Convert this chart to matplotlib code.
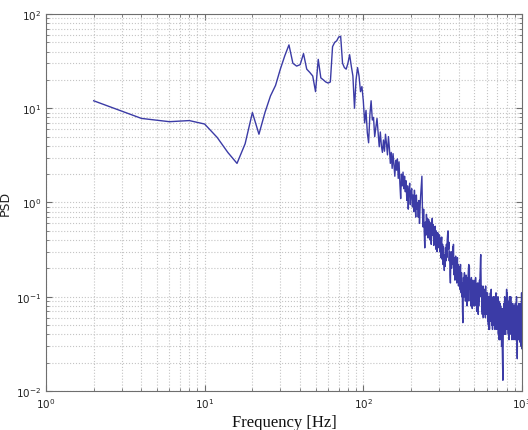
"""
Power spectral density of the measured signal, log-log, 2 Hz bins.
"""

import numpy as np
import matplotlib.pyplot as plt
from matplotlib.ticker import LogLocator, NullFormatter

# --- Spectrum (bin spacing 2 Hz, first bin at 2 Hz) ---
df = 2.0

psd_low = [  # 2 .. 100 Hz
    12.0, 7.8, 7.2, 7.4, 6.8, 4.9, 3.4, 2.6, 4.2, 9.0,
    5.3, 9.0, 13.5, 17.5, 26, 36, 47, 30, 28, 29,
    38, 26, 24, 22, 15, 33, 21, 20, 19, 18.5,
    19, 45, 50, 52, 57, 58, 30, 27, 26, 30,
    37, 28, 22, 10, 20, 27, 22, 15, 17, 12,
]
psd_mid = [  # 102 .. 300 Hz
    7.0, 9.5, 5.5, 4.3, 8.5, 12.0, 7.5, 8.0, 5.0, 6.2,
    7.8, 5.4, 3.9, 5.6, 4.0, 3.4, 4.6, 3.5, 5.3, 4.2,
    3.2, 5.0, 3.8, 2.6, 3.4, 2.3, 3.3, 2.5, 1.9, 2.8,
    2.2, 2.9, 1.8, 2.7, 1.6, 1.1, 2.0, 1.5, 2.1, 1.4,
    1.9, 1.3, 1.7, 1.05, 1.5, 0.85, 1.35, 1.6, 0.95, 1.3,
    1.4, 0.9, 1.2, 0.8, 1.35, 1.0, 0.7, 1.2, 0.85, 1.0,
    0.7, 1.05, 0.6, 0.9, 1.2, 1.5, 1.9, 0.8, 0.55, 0.85,
    0.5, 0.33, 0.62, 0.45, 0.75, 0.5, 0.68, 0.42, 0.66, 0.5,
    0.62, 0.4, 0.6, 0.36, 0.55, 0.68, 0.45, 0.58, 0.35, 0.55,
    0.4, 0.56, 0.32, 0.5, 0.42, 0.3, 0.48, 0.36, 0.46, 0.33,
]
psd_high = [  # 302 .. 600 Hz
    0.45, 0.3, 0.42, 0.26, 0.38, 0.43, 0.25, 0.36, 0.22, 0.34,
    0.24, 0.19, 0.28, 0.21, 0.33, 0.24, 0.36, 0.26, 0.4, 0.46,
    0.5, 0.32, 0.38, 0.24, 0.3, 0.17, 0.14, 0.25, 0.3, 0.2,
    0.28, 0.22, 0.34, 0.26, 0.36, 0.22, 0.17, 0.26, 0.15, 0.23,
    0.27, 0.16, 0.24, 0.14, 0.21, 0.26, 0.15, 0.22, 0.13, 0.2,
    0.18, 0.21, 0.12, 0.19, 0.22, 0.13, 0.11, 0.18, 0.1, 0.14,
    0.07, 0.053, 0.11, 0.16, 0.1, 0.15, 0.18, 0.1, 0.15, 0.09,
    0.15, 0.17, 0.1, 0.14, 0.08, 0.13, 0.16, 0.09, 0.17, 0.2,
    0.22, 0.13, 0.21, 0.12, 0.15, 0.09, 0.14, 0.08, 0.13, 0.16,
    0.09, 0.12, 0.075, 0.13, 0.15, 0.085, 0.12, 0.14, 0.08, 0.12,
    0.14, 0.08, 0.15, 0.1, 0.16, 0.12, 0.09, 0.13, 0.07, 0.12,
    0.085, 0.14, 0.07, 0.11, 0.065, 0.12, 0.08, 0.14, 0.09, 0.15,
    0.1, 0.17, 0.2, 0.26, 0.28, 0.16, 0.1, 0.13, 0.07, 0.12,
    0.065, 0.11, 0.08, 0.13, 0.06, 0.09, 0.11, 0.065, 0.1, 0.075,
    0.12, 0.07, 0.1, 0.06, 0.13, 0.085, 0.11, 0.065, 0.1, 0.08,
]
psd_tail = [  # 602 .. 1000 Hz
    0.1, 0.065, 0.11, 0.055, 0.09, 0.1, 0.05, 0.085, 0.045, 0.07,
    0.09, 0.045, 0.08, 0.1, 0.06, 0.11, 0.07, 0.055, 0.09, 0.12,
    0.07, 0.09, 0.05, 0.095, 0.06, 0.045, 0.085, 0.055, 0.1, 0.06,
    0.05, 0.085, 0.1, 0.06, 0.05, 0.095, 0.06, 0.045, 0.085, 0.1,
    0.06, 0.09, 0.11, 0.065, 0.05, 0.085, 0.045, 0.08, 0.055, 0.09,
    0.05, 0.085, 0.1, 0.055, 0.04, 0.075, 0.09, 0.05, 0.035, 0.07,
    0.085, 0.045, 0.035, 0.07, 0.085, 0.045, 0.08, 0.04, 0.07, 0.035,
    0.065, 0.03, 0.06, 0.075, 0.035, 0.028, 0.02, 0.015, 0.013, 0.025,
    0.06, 0.075, 0.04, 0.065, 0.085, 0.05, 0.04, 0.08, 0.1, 0.06,
    0.05, 0.09, 0.055, 0.04, 0.075, 0.085, 0.045, 0.08, 0.095, 0.12,
    0.08, 0.11, 0.06, 0.045, 0.085, 0.045, 0.075, 0.09, 0.05, 0.04,
    0.08, 0.085, 0.045, 0.035, 0.075, 0.085, 0.1, 0.055, 0.04, 0.075,
    0.085, 0.045, 0.07, 0.09, 0.1, 0.06, 0.045, 0.04, 0.075, 0.085,
    0.045, 0.035, 0.065, 0.08, 0.04, 0.075, 0.085, 0.045, 0.04, 0.075,
    0.045, 0.08, 0.04, 0.07, 0.035, 0.065, 0.08, 0.04, 0.075, 0.045,
    0.08, 0.04, 0.075, 0.085, 0.045, 0.035, 0.065, 0.08, 0.04, 0.07,
    0.085, 0.1, 0.05, 0.06, 0.032, 0.025, 0.022, 0.04, 0.06, 0.075,
    0.045, 0.08, 0.04, 0.075, 0.035, 0.065, 0.085, 0.05, 0.04, 0.075,
    0.08, 0.04, 0.07, 0.045, 0.033, 0.075, 0.085, 0.045, 0.035, 0.07,
    0.08, 0.04, 0.03, 0.06, 0.085, 0.05, 0.11, 0.05, 0.028, 0.06,
]

psd = np.array(psd_low + psd_mid + psd_high + psd_tail)
freq = df * np.arange(1, len(psd) + 1)

LINE = '#3b3ba6'
GRID = '#c4c4c4'
SPINE = '#6e6e6e'

fig = plt.figure(figsize=(5.28, 4.31), dpi=100)
ax = fig.add_axes([0.087, 0.0905, 0.9016, 0.8747])

ax.loglog(freq, psd, color=LINE, linewidth=1.0)

ax.set_xlim(1, 1000)
ax.set_ylim(1e-2, 1e2)

# MATLAB-like dotted grid on major and minor decades
ax.grid(True, which='major', linestyle=':', color=GRID, linewidth=0.8)
ax.grid(True, which='minor', linestyle=':', color=GRID, linewidth=0.8)
ax.xaxis.set_minor_locator(LogLocator(base=10, subs=np.arange(2, 10)))
ax.yaxis.set_minor_locator(LogLocator(base=10, subs=np.arange(2, 10)))
ax.xaxis.set_minor_formatter(NullFormatter())
ax.yaxis.set_minor_formatter(NullFormatter())

ax.tick_params(which='both', direction='in', top=True, right=True,
               colors=SPINE, labelcolor='#222222', labelsize=7.5)
ax.tick_params(which='major', length=4)
ax.tick_params(which='minor', length=2)
for s in ax.spines.values():
    s.set_color(SPINE)
    s.set_linewidth(0.8)

ax.set_xlabel('Frequency [Hz]', family='Liberation Serif', fontsize=12,
              color='#111111', labelpad=3)
ax.set_ylabel('PSD', fontsize=9, color='#222222')
ax.yaxis.set_label_coords(-0.071, 0.5)

fig.savefig('out.png', dpi=100)
